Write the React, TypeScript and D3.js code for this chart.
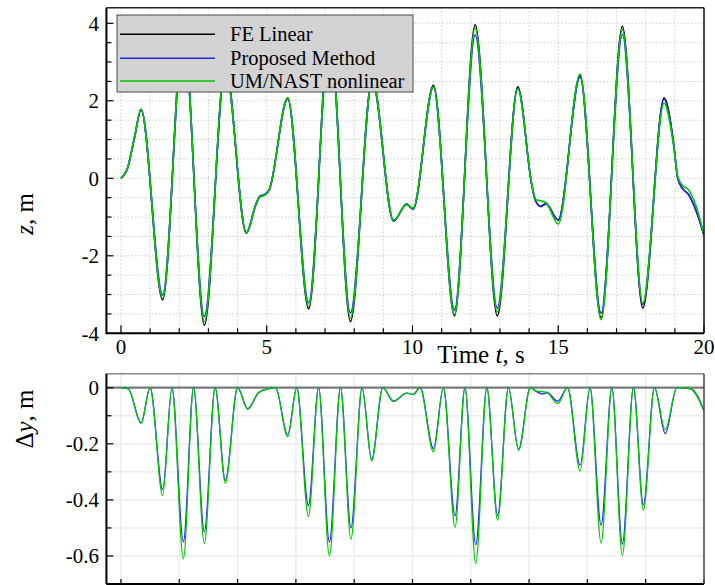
import React from 'react';
import * as d3 from 'd3';

// ---- data ----
const T_Z = [0, 0.23, 0.46, 0.69, 1.43, 2.14, 2.86, 3.58, 4.30, 4.62, 4.76, 4.94, 5.09, 5.72, 6.44, 7.16, 7.87, 8.62, 9.35, 9.80, 10.02, 10.72, 11.44, 12.15, 12.91, 13.61, 14.09, 14.22, 14.40, 14.58, 15.00, 15.75, 16.47, 17.20, 17.90, 18.63, 18.95, 19.10, 19.28, 19.45, 19.70, 20.00];
const Z_FE = [0, 0.27, 1.04, 1.78, -3.14, 3.92, -3.79, 2.95, -1.42, -0.70, -0.48, -0.43, -0.29, 2.08, -3.37, 3.92, -3.70, 2.58, -1.10, -0.67, -0.79, 2.40, -3.55, 3.96, -3.55, 2.36, -0.16, -0.58, -0.72, -0.66, -1.08, 2.65, -3.60, 3.92, -3.35, 2.08, 0.95, 0.00, -0.28, -0.40, -0.78, -1.47];
const Z_PM = [0, 0.27, 1.04, 1.76, -3.01, 3.70, -3.57, 2.85, -1.40, -0.68, -0.46, -0.41, -0.28, 2.04, -3.21, 3.70, -3.48, 2.50, -1.10, -0.66, -0.80, 2.36, -3.40, 3.70, -3.35, 2.33, -0.16, -0.58, -0.73, -0.66, -1.07, 2.61, -3.48, 3.71, -3.26, 2.04, 0.93, 0.00, -0.28, -0.40, -0.78, -1.47];
const Z_UM = [0, 0.27, 1.04, 1.77, -3.10, 3.86, -3.70, 2.92, -1.41, -0.70, -0.48, -0.43, -0.29, 2.07, -3.31, 3.85, -3.61, 2.55, -1.08, -0.68, -0.77, 2.36, -3.52, 3.88, -3.45, 2.31, -0.14, -0.55, -0.58, -0.63, -1.18, 2.69, -3.65, 3.84, -3.22, 1.94, 0.88, 0.05, -0.20, -0.28, -0.65, -1.45];

const T_DY = [0, 0.25, 0.69, 1.00, 1.43, 1.75, 2.14, 2.49, 2.86, 3.23, 3.58, 4.00, 4.35, 4.72, 5.05, 5.30, 5.72, 6.03, 6.43, 6.78, 7.15, 7.53, 7.89, 8.27, 8.60, 8.98, 9.35, 9.80, 10.02, 10.26, 10.72, 11.06, 11.46, 11.80, 12.17, 12.55, 12.92, 13.29, 13.64, 14.04, 14.26, 14.45, 14.62, 14.98, 15.32, 15.75, 16.09, 16.47, 16.84, 17.20, 17.58, 17.92, 18.30, 18.67, 19.07, 19.55, 20.00];
const DY_PM = [0, -0.004, -0.125, 0, -0.363, 0, -0.55, 0, -0.514, 0, -0.33, 0, -0.075, -0.017, -0.004, 0, -0.168, 0, -0.42, 0, -0.55, 0, -0.50, 0, -0.255, 0, -0.049, -0.019, -0.024, 0, -0.217, 0, -0.457, 0, -0.56, 0, -0.457, 0, -0.22, 0, -0.014, -0.022, -0.018, -0.048, 0, -0.277, 0, -0.49, 0, -0.558, 0, -0.417, 0, -0.164, 0, -0.005, -0.083];
const DY_UM = [0, -0.004, -0.127, 0, -0.384, 0, -0.61, 0, -0.556, 0, -0.34, 0, -0.077, -0.018, -0.004, 0, -0.175, 0, -0.46, 0, -0.60, 0, -0.54, 0, -0.262, 0, -0.047, -0.019, -0.024, 0, -0.229, 0, -0.497, 0, -0.627, 0, -0.473, 0, -0.223, 0, -0.012, -0.014, -0.017, -0.057, 0, -0.297, 0, -0.554, 0, -0.598, 0, -0.437, 0, -0.15, 0, -0.003, -0.080];
const T_DY_FE = [-0.5, 20];
const DY_FE = [0, 0];

const X_TICKS = [0, 5, 10, 15, 20];
const Z_TICKS = [-4, -2, 0, 2, 4];
const DY_TICKS = [0, -0.2, -0.4, -0.6];
const LEGEND = ['FE Linear', 'Proposed Method', 'UM/NAST nonlinear'];
const COLORS = ['#000000', '#2626ff', '#00c800'];

const FONT = '"Liberation Serif", "Times New Roman", serif';

export default function App() {
  const x = d3.scaleLinear().domain([-0.5, 20]).range([106.4, 704]);
  const yT = d3.scaleLinear().domain([-4, 4.4]).range([333.3, 7.8]);
  const yB = d3.scaleLinear().domain([-0.7, 0.05]).range([584, 373.7]);

  const L = x(-0.5), R = x(20);
  const tT = yT(4.4), bT = yT(-4);
  const tB = yB(0.05), bB = yB(-0.7);

  const mk = (ts: number[], ys: number[], sy: (v: number) => number) =>
    d3.line<number>().x((_, i) => x(ts[i])).y(d => sy(d)).curve(d3.curveMonotoneX)(ys) || '';

  const xMinor = d3.range(0, 21, 1);
  const zMinor = d3.range(-4, 4.01, 0.5);
  const dyMinor = d3.range(-7, 1, 1).map(v => v / 10);
  const xBot = d3.range(0, 21, 2);

  const topSeries = [Z_FE, Z_PM, Z_UM];
  const legendRows = [34.3, 58.3, 81];

  return (
    <svg width={715} height={585} style={{ position: 'absolute', left: 0, top: 0, display: 'block', background: '#fff' }} fontFamily={FONT}>
      <defs>
        <clipPath id="clipT"><rect x={L} y={tT} width={R - L} height={bT - tT} /></clipPath>
        <clipPath id="clipB"><rect x={L} y={tB} width={R - L} height={bB - tB} /></clipPath>
      </defs>

      {/* ---------- top panel ---------- */}
      <g>
        {xMinor.map(v => (
          <line key={'gx' + v} x1={x(v)} x2={x(v)} y1={tT} y2={bT} stroke="#cfcfcf" strokeWidth={1} strokeDasharray="1.5,2" />
        ))}
        {zMinor.map(v => (
          <line key={'gy' + v} x1={L} x2={R} y1={yT(v)} y2={yT(v)} stroke="#cfcfcf" strokeWidth={1} strokeDasharray="1.5,2" />
        ))}
        <g clipPath="url(#clipT)">
          {topSeries.map((s, i) => (
            <path key={'s' + i} d={mk(T_Z, s, yT)} fill="none" stroke={COLORS[i]} strokeWidth={1.6} />
          ))}
        </g>
        {/* ticks */}
        {zMinor.map(v => {
          const major = Z_TICKS.includes(v);
          return <line key={'ty' + v} x1={L} x2={L + (major ? 7 : 5)} y1={yT(v)} y2={yT(v)} stroke="#000" strokeWidth={1.2} />;
        })}
        {xMinor.map(v => {
          const major = X_TICKS.includes(v);
          return <line key={'tx' + v} x1={x(v)} x2={x(v)} y1={bT} y2={bT - (major ? 8 : 5)} stroke="#000" strokeWidth={1.2} />;
        })}
        {/* frame */}
        <line x1={L} x2={R} y1={tT} y2={tT} stroke="#222" strokeWidth={1.5} />
        <line x1={R} x2={R} y1={tT} y2={bT} stroke="#111" strokeWidth={1.5} />
        <line x1={L} x2={L} y1={tT} y2={bT + 1} stroke="#000" strokeWidth={2} />
        <line x1={L} x2={R} y1={bT} y2={bT} stroke="#000" strokeWidth={2} />
        {/* tick labels */}
        {Z_TICKS.map(v => (
          <text key={'ly' + v} x={99} y={yT(v)} dy="0.35em" textAnchor="end" fontSize={21}>{String(v)}</text>
        ))}
        {X_TICKS.map(v => (
          <text key={'lx' + v} x={x(v)} y={354} textAnchor="middle" fontSize={21}>{String(v)}</text>
        ))}
        <text x={481} y={363} textAnchor="middle" fontSize={25}>Time <tspan fontStyle="italic">t</tspan>, s</text>
        <text transform="translate(33,214) rotate(-90)" textAnchor="middle" fontSize={25}><tspan fontStyle="italic">z</tspan>, m</text>

        {/* legend */}
        <rect x={117} y={15} width={296} height={77} fill="#d3d3d3" stroke="#4a4a4a" strokeWidth={1} />
        {LEGEND.map((name, i) => (
          <g key={name}>
            <line x1={120} x2={215} y1={legendRows[i]} y2={legendRows[i]} stroke={COLORS[i]} strokeWidth={1.4} />
            <text x={230} y={legendRows[i] + 7} fontSize={20.5}>{name}</text>
          </g>
        ))}
      </g>

      {/* ---------- bottom panel ---------- */}
      <g>
        {xBot.map(v => (
          <line key={'bgx' + v} x1={x(v)} x2={x(v)} y1={tB} y2={bB} stroke="#ececec" strokeWidth={1.5} />
        ))}
        {dyMinor.map(v => (
          <line key={'bgy' + v} x1={L} x2={R} y1={yB(v)} y2={yB(v)} stroke="#ececec" strokeWidth={1.5} />
        ))}
        <g clipPath="url(#clipB)">
          <path d={mk(T_DY_FE, DY_FE, yB)} fill="none" stroke="#7a7a7a" strokeWidth={2.2} />
          <path d={mk(T_DY, DY_PM, yB)} fill="none" stroke={COLORS[1]} strokeWidth={1.3} />
          <path d={mk(T_DY, DY_UM, yB)} fill="none" stroke={COLORS[2]} strokeWidth={1.3} />
        </g>
        {dyMinor.map(v => {
          const major = DY_TICKS.some(t => Math.abs(t - v) < 1e-9);
          return <line key={'bty' + v} x1={L} x2={L + (major ? 7 : 5)} y1={yB(v)} y2={yB(v)} stroke="#000" strokeWidth={1.2} />;
        })}
        {xBot.map(v => (
          <line key={'btx' + v} x1={x(v)} x2={x(v)} y1={bB} y2={bB - 5} stroke="#000" strokeWidth={1.2} />
        ))}
        <line x1={L} x2={R} y1={tB} y2={tB} stroke="#8a8a8a" strokeWidth={1.5} />
        <line x1={R} x2={R} y1={tB} y2={bB} stroke="#444" strokeWidth={1.5} />
        <line x1={L} x2={L} y1={tB} y2={bB} stroke="#000" strokeWidth={2} />
        <line x1={L} x2={R} y1={bB} y2={bB} stroke="#000" strokeWidth={2} />
        {DY_TICKS.map(v => (
          <text key={'bly' + v} x={99} y={yB(v)} dy="0.35em" textAnchor="end" fontSize={21}>{v === 0 ? '0' : String(v).replace('0.', '0.')}</text>
        ))}
        <text transform="translate(33,419) rotate(-90)" textAnchor="middle" fontSize={25}>Δ<tspan fontStyle="italic">y</tspan>, m</text>
      </g>
    </svg>
  );
}
